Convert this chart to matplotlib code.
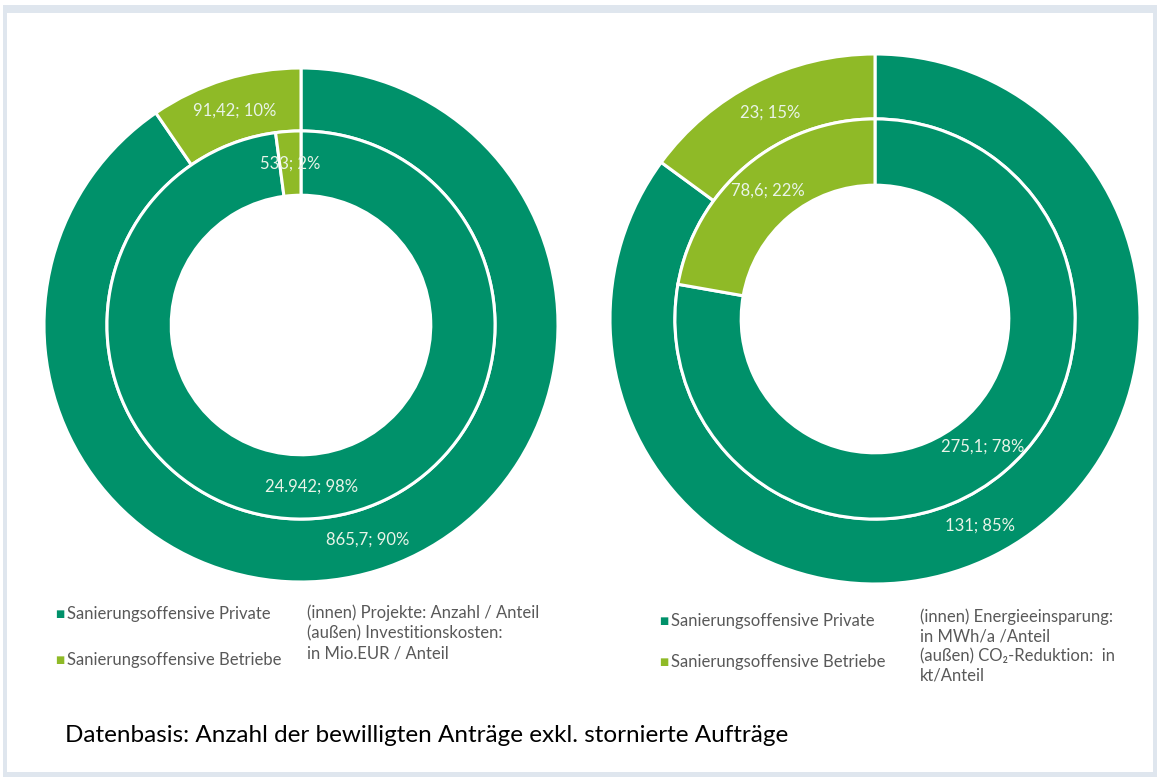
import matplotlib.pyplot as plt
from matplotlib.patches import Rectangle
import numpy as np

# Daten
kategorien = ['Sanierungsoffensive Private', 'Sanierungsoffensive Betriebe']
farben = ['#00916a', '#8fba27']

# linkes Diagramm
links_innen = [24942, 533]
links_innen_txt = ['24.942; 98%', '533; 2%']
links_aussen = [865.7, 91.42]
links_aussen_txt = ['865,7; 90%', '91,42; 10%']

# rechtes Diagramm
rechts_innen = [275.1, 78.6]
rechts_innen_txt = ['275,1; 78%', '78,6; 22%']
rechts_aussen = [131, 23]
rechts_aussen_txt = ['131; 85%', '23; 15%']

links_notiz = '(innen) Projekte: Anzahl / Anteil\n(außen) Investitionskosten:\nin Mio.EUR / Anteil'
rechts_notiz = '(innen) Energieeinsparung:\nin MWh/a /Anteil\n(außen) CO₂-Reduktion:  in\nkt/Anteil'
fussnote = 'Datenbasis: Anzahl der bewilligten Anträge exkl. stornierte Aufträge'

plt.rcParams['font.family'] = ['Lato', 'DejaVu Sans']

W, H = 1163, 777
fig = plt.figure(figsize=(W / 100, H / 100), dpi=100)
fig.patch.set_facecolor('white')

# Rahmen
fig.patches.append(Rectangle((3 / W, 0), 1154 / W, 1 - 5 / H, transform=fig.transFigure,
                             facecolor='#dfe6ee', edgecolor='none', zorder=-10))
fig.patches.append(Rectangle((7 / W, 5 / H), 1146 / W, 1 - 18 / H, transform=fig.transFigure,
                             facecolor='white', edgecolor='none', zorder=-9))


def donut(cx, cy, R, innen, innen_txt, aussen, aussen_txt):
    # cx, cy, R in Pixel
    ax = fig.add_axes([(cx - R) / W, 1 - (cy + R) / H, 2 * R / W, 2 * R / H])
    wp = dict(edgecolor='white', linewidth=2.2)
    w_out, _ = ax.pie(aussen, radius=1.0, colors=farben, startangle=90, counterclock=False,
                      wedgeprops=dict(width=0.245, **wp))
    w_in, _ = ax.pie(innen, radius=0.755, colors=farben, startangle=90, counterclock=False,
                     wedgeprops=dict(width=0.25, **wp))
    ax.set_xlim(-1, 1)
    ax.set_ylim(-1, 1)
    ax.set_aspect('equal')
    ax.axis('off')
    for wedges, txts, r in [(w_out, aussen_txt, 0.875), (w_in, innen_txt, 0.63)]:
        for w, t in zip(wedges, txts):
            a = np.deg2rad((w.theta1 + w.theta2) / 2)
            ax.text(r * np.cos(a), r * np.sin(a), t, ha='center', va='center',
                    fontsize=12, color='#e9f4e8')


donut(301, 325, 257, links_innen, links_innen_txt, links_aussen, links_aussen_txt)
donut(875, 319, 265, rechts_innen, rechts_innen_txt, rechts_aussen, rechts_aussen_txt)


def legende(x, ys):
    for y, name, c in zip(ys, kategorien, farben):
        fig.text(x / W, 1 - y / H, '■', color=c, fontsize=7, va='center', ha='left',
                 family=['DejaVu Sans'])
        fig.text((x + 12) / W, 1 - y / H, name, color='#595959', fontsize=12,
                 va='center', ha='left')


legende(55, [614, 660])
legende(659, [621, 662])

fig.text(307 / W, 1 - 604 / H, links_notiz, color='#595959', fontsize=12,
         va='top', ha='left', linespacing=1.35)
fig.text(920 / W, 1 - 608 / H, rechts_notiz, color='#595959', fontsize=12,
         va='top', ha='left', linespacing=1.28)

fig.text(65 / W, 1 - 735 / H, fussnote, color='black', fontsize=17.5, va='center', ha='left')

fig.savefig('out.png', dpi=100, facecolor='white')
